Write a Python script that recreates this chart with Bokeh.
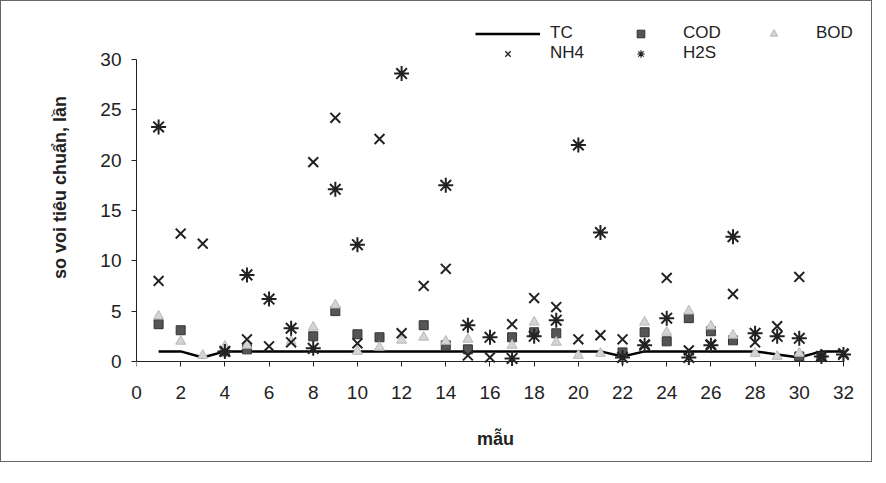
import numpy as np
from bokeh.plotting import figure
from bokeh.models import Range1d, FixedTicker, Legend, LegendItem, LinearAxis
from bokeh.embed import file_html
from bokeh.resources import INLINE

nan = float("nan")
samples = list(range(1, 33))
TC = [1, 1, 0.4, 1, 1, 1, 1, 1, 1, 1, 1, 1, 1, 1, 1, 1,
      1, 1, 1, 1, 1, 0.5, 1, 1, 1, 1, 1, 1, 0.7, 0.4, 1, 1]
COD = [3.7, 3.1, nan, 1.0, 1.2, nan, nan, 2.5, 5.0, 2.7, 2.4, nan, 3.6, 1.6, 1.2, nan,
       2.4, 2.9, 2.8, nan, nan, 0.9, 2.9, 2.0, 4.3, 3.0, 2.1, nan, nan, 0.5, 0.5, nan]
BOD = [4.5, 2.0, 0.6, 1.5, 1.6, nan, 2.0, 3.4, 5.6, 1.0, 1.4, 2.1, 2.4, 2.0, 2.2, nan,
       1.6, 3.9, 1.9, 0.6, 0.8, nan, 3.9, 2.9, 5.0, 3.5, 2.6, 0.8, 0.5, 0.8, nan, nan]
NH4 = [8.0, 12.7, 11.7, 1.0, 2.2, 1.5, 1.9, 19.8, 24.2, 1.8, 22.1, 2.8, 7.5, 9.2, 0.6, 0.4,
       3.7, 6.3, 5.4, 2.2, 2.6, 2.2, 1.7, 8.3, 1.1, 1.7, 6.7, 1.9, 3.5, 8.4, 0.5, 0.8]
H2S = [23.3, nan, nan, 1.0, 8.6, 6.2, 3.3, 1.3, 17.1, 11.6, nan, 28.6, nan, 17.5, 3.6, 2.4,
       0.3, 2.5, 4.1, 21.5, 12.8, 0.4, 1.6, 4.3, 0.4, 1.6, 12.4, 2.8, 2.5, 2.3, 0.5, 0.7]
x_ticks = list(range(0, 33, 2))
y_ticks = list(range(0, 31, 5))

FONT = "Liberation Sans"
INK = "#222222"

p = figure(width=872, height=462, output_backend="svg", toolbar_location=None,
           x_range=Range1d(0, 32.5), y_range=Range1d(-0.7, 35.26),
           min_border_left=135, min_border_right=19, min_border_top=5, min_border_bottom=95)
p.styles = {"border": "1.5px solid #666"}
p.outline_line_color = None
p.xgrid.visible = False
p.ygrid.visible = False

x = np.array(samples, dtype=float)
r_tc = p.line(x, np.array(TC), line_color="black", line_width=2.5)
r_cod = p.scatter(x, np.array(COD), marker="square", size=9, fill_color="#555555",
                  line_color="#333333", line_width=1)
r_bod = p.scatter(x, np.array(BOD), marker="triangle", size=10, fill_color="#d4d4d4",
                  line_color="#b8b8b8", line_width=1)
r_nh4 = p.scatter(x, np.array(NH4), marker="x", size=14, line_color=INK, line_width=2)
r_h2s = p.scatter(x, np.array(H2S), marker="asterisk", size=15, line_color=INK, line_width=2)

# legend-only proxies with thinner strokes (legend markers are drawn small)
leg_nh4 = p.scatter([nan], [nan], marker="x", size=14, line_color=INK, line_width=1.4)
leg_h2s = p.scatter([nan], [nan], marker="asterisk", size=14, line_color=INK, line_width=1.2)

# y axis
p.yaxis.bounds = (0, 30)
p.yaxis.ticker = FixedTicker(ticks=y_ticks)
p.yaxis.major_label_standoff = 10
p.yaxis.axis_label = "so voi tiêu chuẩn, lần"
p.yaxis.axis_label_standoff = 27

# x axis: labels at frame bottom, line + ticks at y = 0
xa = p.xaxis[0]
xa.ticker = FixedTicker(ticks=x_ticks)
xa.axis_line_color = None
xa.major_tick_line_color = None
xa.major_label_standoff = 12
xa.axis_label = "mẫu"
xa.axis_label_standoff = 27

x0 = LinearAxis(ticker=FixedTicker(ticks=x_ticks), fixed_location=0, bounds=(0, 32),
                major_label_text_color=None)
p.add_layout(x0, "below")

for ax in (xa, p.yaxis[0], x0):
    ax.minor_tick_line_color = None
    ax.major_tick_in = 0
    ax.major_tick_out = 5
    ax.major_label_text_font = FONT
    ax.major_label_text_font_size = "19px"
    ax.axis_label_text_font = FONT
    ax.axis_label_text_font_style = "bold"
    ax.axis_label_text_font_size = "18px"
    ax.axis_label_text_color = INK
p.yaxis.axis_line_color = INK
p.yaxis.major_tick_line_color = INK
p.yaxis.major_label_text_color = INK
xa.major_label_text_color = INK
x0.axis_line_color = INK
x0.major_tick_line_color = INK

# column-major fill: row 1 = TC, COD, BOD ; row 2 = NH4, H2S
legend = Legend(items=[
    LegendItem(label="TC", renderers=[r_tc]),
    LegendItem(label="NH4", renderers=[leg_nh4]),
    LegendItem(label="COD", renderers=[r_cod]),
    LegendItem(label="H2S", renderers=[leg_h2s]),
    LegendItem(label="BOD", renderers=[r_bod]),
], nrows=2, location=(339, 305), glyph_width=65, glyph_height=19, label_standoff=10,
    label_width=58, spacing=0, padding=0, margin=0, label_height=19,
    label_text_font=FONT, label_text_font_size="17px", label_text_color=INK,
    background_fill_alpha=0, border_line_color=None)
p.add_layout(legend, "center")

open("out.html", "w").write(file_html(p, INLINE))
